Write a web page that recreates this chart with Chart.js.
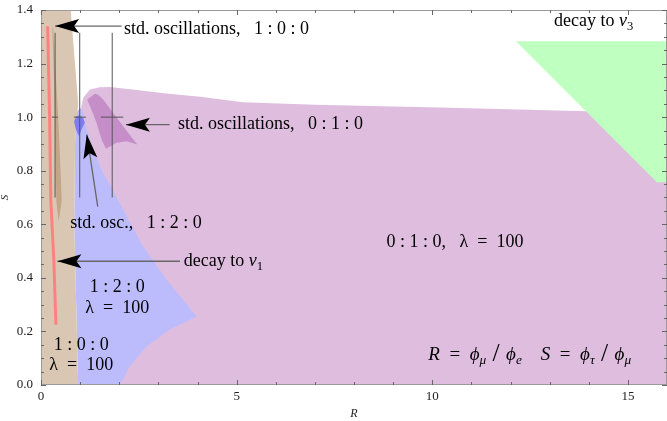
<!DOCTYPE html>
<html><head><meta charset="utf-8">
<script src="https://cdn.jsdelivr.net/npm/chart.js@4"></script>
<style>html,body{margin:0;padding:0;background:#fff}canvas{display:block}</style>
</head><body>
<canvas id="c" width="667" height="421"></canvas>
<script>
// ---- axis ticks ----
const xTickLabels = [0, 5, 10, 15];
const yTickLabels = [0.0, 0.2, 0.4, 0.6, 0.8, 1.0, 1.2, 1.4];

// ---- region boundaries (R, S) ----
const purpleR = [1.0, 16, 16, 13.95, 10.45, 7.0, 5.16, 4.07, 3.2, 2.5, 1.76, 1.5, 1.25, 1.08, 1.03, 1.0];
const purpleS = [0, 0, 1.005, 1.022, 1.035, 1.046, 1.056, 1.076, 1.088, 1.10, 1.113, 1.112, 1.103, 1.072, 1.04, 1.0];

const blueR = [0.95, 0.9, 0.85, 0.87, 0.92, 1.0, 1.06, 1.12, 1.3, 1.59, 1.76, 2.14, 2.61, 3.21, 3.98, 3.29, 2.70, 2.27, 2.02];
const blueS = [0, 0.3, 0.6, 0.9, 1.02, 1.035, 1.02, 0.979, 0.89, 0.79, 0.75, 0.642, 0.518, 0.393, 0.256, 0.207, 0.144, 0.07, 0];

const tanR = [0, 0.95, 0.9, 0.85, 0.87, 0.95, 0.76, 0];
const tanS = [0, 0, 0.3, 0.6, 0.9, 1.05, 1.4, 1.4];

const darkTanR = [0.29, 0.36, 0.38, 0.39, 0.45, 0.53, 0.50, 0.44, 0.31];
const darkTanS = [1.335, 1.0, 0.80, 0.69, 0.61, 0.69, 0.80, 1.0, 1.335];

const darkBlueR = [0.907, 0.847, 0.88, 0.93, 0.975, 1.035, 1.12, 1.077, 0.99];
const darkBlueS = [1.004, 0.985, 0.960, 0.941, 0.929, 0.954, 0.979, 0.997, 1.006];

const darkPurpleR = [1.18, 1.29, 1.42, 1.55, 1.66, 1.93, 2.19, 2.46, 2.10, 1.84, 1.59, 1.46, 1.38];
const darkPurpleS = [1.066, 1.028, 0.979, 0.916, 0.882, 0.904, 0.91, 0.898, 0.966, 1.016, 1.066, 1.084, 1.087];

const greenR = [12.14, 16, 16, 15.74];
const greenS = [1.283, 1.283, 0.757, 0.757];

const redR = [0.17, 0.22, 0.25, 0.33, 0.38];
const redS = [1.335, 1.0, 0.69, 0.46, 0.23];

// ---- "standard oscillation" cross bars ----
const errR   = [0.36, 0.99, 1.82];
const errS   = [1.0, 1.0, 1.0];
const errRlo = [0.28, 0.84, 1.53];
const errRhi = [0.43, 1.15, 2.10];
const errSlo = [0.70, 0.70, 0.70];
const errShi = [1.315, 1.315, 1.315];

// ---- arrows ----
const arrowTipR  = [0.36, 2.17, 1.17, 0.42];
const arrowTipS  = [1.34, 0.972, 0.935, 0.462];
const arrowTailR = [2.06, 3.29, 1.45, 3.55];
const arrowTailS = [1.34, 0.972, 0.666, 0.462];

// ---- labels ----
const labelText = [
  [{t:'std. oscillations,   1 : 0 : 0'}],
  [{t:'std. oscillations,   0 : 1 : 0'}],
  [{t:'std. osc.,   1 : 2 : 0'}],
  [{t:'decay to '},{t:'\u03bd',i:1},{t:'1',s:1}],
  [{t:'decay to '},{t:'\u03bd',i:1},{t:'3',s:1}],
  [{t:'0 : 1 : 0,   \u03bb  =  100'}],
  [{t:'1 : 2 : 0'}],
  [{t:'\u03bb  =  100'}],
  [{t:'1 : 0 : 0'}],
  [{t:'\u03bb  =  100'}],
  [{t:'R',i:1},{t:'  =  '},{t:'\u03d5',i:1},{t:'\u03bc',i:1,s:1},{t:' / ',k:1.35},{t:'\u03d5',i:1},{t:'e',i:1,s:1},
   {t:'    '},{t:'S',i:1},{t:'  =  '},{t:'\u03d5',i:1},{t:'\u03c4',i:1,s:1},{t:' / ',k:1.35},{t:'\u03d5',i:1},{t:'\u03bc',i:1,s:1}]
];
const labelR = [2.12, 3.50, 0.75, 3.65, 13.11, 10.58, 1.95, 1.95, 1.03, 1.03, 9.9];
const labelS = [1.327, 0.972, 0.6025, 0.462, 1.357, 0.532, 0.366, 0.288, 0.15, 0.073, 0.113];
const labelAlign = ['left','left','left','left','left','center','center','center','center','center','left'];
const labelSize = [18, 18, 18, 18, 18, 18, 18, 18, 18, 18, 19];

const FONT = '"Liberation Serif", "Times New Roman", serif';
Chart.defaults.font.family = FONT;

function pts(rs, ss) { return rs.map((r, i) => ({x: r, y: ss[i]})); }

const layers = [];
function region(rs, ss, color) {
  layers.push({data: pts(rs, ss), showLine: true, fill: 'shape', backgroundColor: color,
    borderWidth: 0, borderColor: 'rgba(0,0,0,0)', pointRadius: 0, pointHoverRadius: 0, tension: 0});
}
function line(data, color, width, cap) {
  layers.push({data, showLine: true, fill: false, borderColor: color, borderWidth: width,
    borderCapStyle: cap || 'butt', pointRadius: 0, pointHoverRadius: 0, tension: 0});
}
region(purpleR, purpleS, '#dfbddf');
region(blueR, blueS, '#bcbcfd');
region(tanR, tanS, '#d9c7b3');
region(darkTanR, darkTanS, '#c3a688');
region(darkBlueR, darkBlueS, '#7d7df2');
region(darkPurpleR, darkPurpleS, '#c58ec8');
region(greenR, greenS, '#bfffbf');
line(pts(redR, redS), '#ff8080', 3, 'round');
errR.forEach((r, i) => {
  line([{x: r, y: errSlo[i]}, {x: r, y: errShi[i]}], '#555', 1);
  line([{x: errRlo[i], y: errS[i]}, {x: errRhi[i], y: errS[i]}], '#555', 1);
});
arrowTipR.forEach((r, i) => {
  line([{x: arrowTailR[i], y: arrowTailS[i]}, {x: r, y: arrowTipS[i]}], '#666', 1.3);
});
layers.forEach((d, i) => { d.order = layers.length - i; });

function drawRich(ctx, runs, x, y, align, size) {
  const parts = runs.map(r => {
    const fs = (r.s ? size * 0.7 : size) * (r.k || 1);
    const font = (r.i ? 'italic ' : '') + fs + 'px ' + FONT;
    ctx.font = font;
    return {t: r.t, font, w: ctx.measureText(r.t).width, dy: r.s ? size * 0.3 : 0};
  });
  const total = parts.reduce((a, p) => a + p.w, 0);
  let cx = align === 'center' ? x - total / 2 : x;
  ctx.textBaseline = 'middle';
  ctx.textAlign = 'left';
  ctx.fillStyle = '#000';
  for (const p of parts) { ctx.font = p.font; ctx.fillText(p.t, cx, y + p.dy); cx += p.w; }
}

const annotate = {
  id: 'annotate',
  afterDatasetsDraw(chart) {
    const {ctx, scales: {x, y}} = chart;
    ctx.save();
    ctx.fillStyle = '#000';
    arrowTipR.forEach((r, i) => {
      const tx = x.getPixelForValue(r), ty = y.getPixelForValue(arrowTipS[i]);
      const bx = x.getPixelForValue(arrowTailR[i]), by = y.getPixelForValue(arrowTailS[i]);
      let dx = bx - tx, dy = by - ty; const n = Math.hypot(dx, dy); dx /= n; dy /= n;
      const px = -dy, py = dx, L = 24, W = 7, N = 5;
      ctx.beginPath();
      ctx.moveTo(tx, ty);
      ctx.lineTo(tx + dx * L + px * W, ty + dy * L + py * W);
      ctx.lineTo(tx + dx * (L - N), ty + dy * (L - N));
      ctx.lineTo(tx + dx * L - px * W, ty + dy * L - py * W);
      ctx.closePath();
      ctx.fill();
    });
    labelText.forEach((runs, i) => {
      drawRich(ctx, runs, x.getPixelForValue(labelR[i]), y.getPixelForValue(labelS[i]), labelAlign[i], labelSize[i]);
    });
    ctx.restore();
  },
  afterDraw(chart) {
    const {ctx, chartArea: a, scales: {x, y}} = chart;
    ctx.save();
    ctx.strokeStyle = '#9a9a9a';
    ctx.lineWidth = 1;
    ctx.strokeRect(a.left + 0.5, a.top + 0.5, a.right - a.left - 1, a.bottom - a.top - 1);
    ctx.strokeStyle = '#666';
    ctx.beginPath();
    for (let v = 0; v <= 16; v += 1) {
      const len = xTickLabels.includes(v) ? 5 : 3;
      const px = Math.round(x.getPixelForValue(v)) + 0.5;
      ctx.moveTo(px, a.bottom); ctx.lineTo(px, a.bottom - len);
      ctx.moveTo(px, a.top); ctx.lineTo(px, a.top + len);
    }
    for (let k = 0; k <= 28; k++) {
      const v = k * 0.05;
      const len = (k % 4 === 0) ? 5 : 3;
      const py = Math.round(y.getPixelForValue(v)) + 0.5;
      ctx.moveTo(a.left, py); ctx.lineTo(a.left + len, py);
      ctx.moveTo(a.right, py); ctx.lineTo(a.right - len, py);
    }
    ctx.stroke();
    ctx.restore();
  }
};

new Chart(document.getElementById('c'), {
  type: 'scatter',
  data: {datasets: layers},
  options: {
    responsive: false,
    animation: false,
    devicePixelRatio: 1,
    events: [],
    layout: {padding: {top: 10, right: 0, left: 0, bottom: 0}},
    plugins: {legend: {display: false}, tooltip: {enabled: false}},
    scales: {
      x: {
        type: 'linear', min: 0, max: 16,
        afterFit: s => { s.height = 36; s.paddingLeft = 0; s.paddingRight = 0; },
        afterBuildTicks: s => { s.ticks = xTickLabels.map(v => ({value: v})); },
        grid: {display: false, drawTicks: false},
        border: {display: false},
        ticks: {color: '#222', font: {size: 13}, padding: 4, autoSkip: false, maxRotation: 0,
          callback: v => String(v)},
        title: {display: true, text: 'R', color: '#222', font: {size: 12, style: 'italic'}, padding: {top: 0, bottom: 0}}
      },
      y: {
        type: 'linear', min: 0, max: 1.4,
        afterFit: s => { s.width = 41; s.paddingTop = 0; s.paddingBottom = 0; },
        afterBuildTicks: s => { s.ticks = yTickLabels.map(v => ({value: v})); },
        grid: {display: false, drawTicks: false},
        border: {display: false},
        ticks: {color: '#222', font: {size: 13}, padding: 8, autoSkip: false,
          callback: v => Number(v).toFixed(1)},
        title: {display: true, text: 'S', color: '#222', font: {size: 11, style: 'italic', lineHeight: 1}, padding: {top: 0, bottom: 0}}
      }
    }
  },
  plugins: [annotate]
});
</script>
</body></html>
